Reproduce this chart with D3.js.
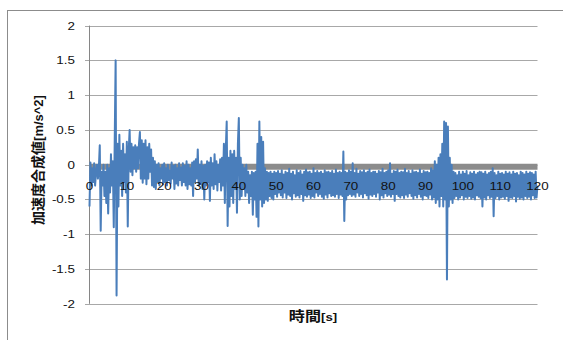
<!DOCTYPE html>
<html><head><meta charset="utf-8">
<script src="https://cdn.jsdelivr.net/npm/d3@7/dist/d3.min.js"></script>
<style>body{margin:0;background:#fff;overflow:hidden}</style>
</head><body>
<svg id="c" width="563" height="340"></svg>
<script>
const sampleStep = 0.25; // seconds between samples
const accel = [
 -0.6, 0.03, -0.3, -0.05, -0.25, 0.02, -0.3, -0.1, 0.0, -0.2,
 -0.05, 0.28, -0.95, -0.1, -0.3, 0.0, -0.45, -0.1, -0.55, 0.0,
 -0.7, -0.05, -0.4, 0.15, -0.3, 0.05, -0.9, 0.33, 1.5, -1.88,
 0.3, -0.6, 0.43, -0.3, 0.2, -0.45, 0.3, -0.25, 0.15, -0.4,
 0.33, -0.89, 0.2, 0.5, -0.1, 0.3, -0.15, 0.25, -0.05, 0.28,
 -0.1, 0.25, -0.05, 0.3, 0.47, -0.2, 0.35, -0.26, 0.3, -0.2,
 0.35, -0.28, 0.25, -0.2, 0.3, -0.1, 0.22, -0.3, 0.1, -0.32,
 0.05, -0.35, 0.0, -0.25, 0.02, -0.3, -0.05, -0.2, 0.0, -0.28,
 0.02, -0.25, -0.05, -0.3, 0.0, -0.22, -0.08, -0.27, 0.03, -0.2,
 -0.02, -0.35, 0.0, -0.27, -0.05, -0.3, 0.02, -0.22, -0.04, -0.3,
 0.02, -0.25, -0.02, -0.3, 0.05, -0.35, 0.0, -0.28, -0.05, -0.3,
 0.03, -0.45, 0.05, -0.25, 0.08, -0.2, 0.22, -0.3, 0.0, -0.28,
 0.05, -0.35, -0.02, -0.5, 0.0, -0.3, 0.05, -0.25, 0.03, -0.52,
 0.1, -0.3, 0.02, -0.35, 0.15, -0.28, 0.05, -0.37, 0.0, -0.25,
 0.08, -0.37, 0.1, -0.3, 0.3, -0.55, 0.2, 0.62, -0.88, 0.1,
 -0.6, 0.2, -0.45, 0.15, -0.55, 0.2, -0.35, 0.1, -0.69, 0.3,
 0.67, -0.5, 0.1, -0.45, 0.0, -0.35, -0.05, -0.45, 0.0, -0.4,
 -0.1, -0.55, -0.15, -0.45, -0.1, -0.72, -0.12, -0.5, -0.1, -0.75,
 0.3, -0.89, 0.62, -0.5, 0.4, -0.6, 0.33, -0.55, -0.05, -0.5,
 -0.1, -0.52, -0.12, -0.45, -0.1, -0.48, -0.13, -0.5, -0.1, -0.42,
 -0.12, -0.46, -0.09, -0.4, -0.13, -0.44, -0.08, -0.47, -0.14, -0.4,
 -0.1, -0.48, -0.12, -0.43, -0.06, -0.45, -0.13, -0.5, -0.1, -0.41,
 -0.15, -0.46, -0.08, -0.44, -0.12, -0.47, -0.09, -0.42, -0.14, -0.52,
 -0.1, -0.44, -0.07, -0.46, -0.11, -0.43, -0.1, -0.48, -0.13, -0.45,
 -0.05, -0.47, -0.12, -0.4, -0.09, -0.45, -0.12, -0.42, -0.1, -0.46,
 -0.13, -0.49, -0.08, -0.43, -0.11, -0.47, -0.1, -0.41, -0.12, -0.45,
 -0.09, -0.44, -0.13, -0.46, -0.07, -0.42, -0.12, -0.48, -0.1, -0.43,
 -0.12, -0.45, 0.19, -0.81, -0.1, -0.5, -0.12, -0.44, -0.08, -0.42,
 -0.1, -0.45, 0.02, -0.43, -0.12, -0.46, -0.06, -0.4, -0.13, -0.45,
 -0.09, -0.42, -0.11, -0.47, -0.08, -0.41, -0.12, -0.44, -0.1, -0.49,
 -0.07, -0.43, -0.12, -0.45, -0.1, -0.42, -0.1, -0.46, -0.13, -0.4,
 -0.09, -0.5, -0.11, -0.44, -0.06, -0.47, -0.12, -0.41, -0.1, -0.45,
 -0.08, -0.43, 0.02, -0.46, -0.13, -0.42, -0.09, -0.52, -0.1, -0.42,
 -0.07, -0.45, -0.12, -0.47, -0.1, -0.44, -0.11, -0.48, -0.06, -0.43,
 -0.12, -0.46, -0.09, -0.41, -0.13, -0.45, -0.08, -0.49, -0.11, -0.44,
 -0.1, -0.47, -0.12, -0.42, -0.07, -0.46, -0.13, -0.5, -0.09, -0.44,
 -0.11, -0.45, -0.1, -0.48, -0.12, -0.43, -0.05, -0.5, -0.08, -0.47,
 0.05, -0.55, 0.0, -0.5, 0.1, -0.6, 0.15, -0.45, 0.3, -0.6,
 0.62, -0.5, 0.6, -1.65, 0.55, -0.6, 0.1, -0.5, 0.0, -0.55,
 -0.1, -0.48, -0.12, -0.45, -0.15, -0.5, -0.1, -0.47, -0.14, -0.44,
 -0.1, -0.5, -0.13, -0.46, -0.09, -0.48, -0.15, -0.45, -0.11, -0.49,
 -0.13, -0.47, -0.1, -0.5, -0.14, -0.44, -0.12, -0.46, -0.1, -0.48,
 -0.11, -0.6, -0.13, -0.47, -0.1, -0.5, -0.14, -0.44, -0.12, -0.48,
 -0.1, -0.46, -0.05, -0.74, -0.12, -0.48, -0.15, -0.45, -0.1, -0.5,
 -0.13, -0.47, -0.12, -0.46, -0.14, -0.49, -0.1, -0.45, -0.13, -0.52,
 -0.11, -0.47, -0.14, -0.48, -0.1, -0.45, -0.13, -0.53, -0.12, -0.46,
 -0.15, -0.49, -0.1, -0.47, -0.12, -0.5, -0.14, -0.45, -0.1, -0.48,
 -0.13, -0.46, -0.11, -0.5, -0.12, -0.44, -0.14, -0.48, -0.1, -0.47,
 -0.3
];
const yTicks = [2, 1.5, 1, 0.5, 0, -0.5, -1, -1.5, -2];
const xTicks = [0, 10, 20, 30, 40, 50, 60, 70, 80, 90, 100, 110, 120];
const yTitle = "加速度合成値", yUnit = "[m/s^2]";
const xTitle = "時間", xUnit = "[s]";

const svg = d3.select("#c");
const x = d3.scaleLinear().domain([0, 120]).range([89.5, 537.5]);
const y = d3.scaleLinear().domain([-2, 2]).range([303.8, 25.6]);
const labelFont = "'Liberation Sans', Arial, sans-serif";
const cjkFont = "'Noto Sans CJK JP', sans-serif";

// outer chart frame
svg.append("rect").attr("x", 7.5).attr("y", 10.5).attr("width", 700).attr("height", 500)
  .attr("fill", "none").attr("stroke", "#8c8c8c");

// gridlines + ticks
svg.append("g").selectAll("line").data(yTicks).join("line")
  .attr("x1", 85).attr("x2", x(120))
  .attr("y1", d => Math.round(y(d)) + 0.5).attr("y2", d => Math.round(y(d)) + 0.5)
  .attr("stroke", "#a8a8a8").attr("stroke-width", 1);

// y axis line
svg.append("line").attr("x1", 89.5).attr("x2", 89.5).attr("y1", y(2)).attr("y2", y(-2))
  .attr("stroke", "#868686");

// x axis bar (thick)
svg.append("line").attr("x1", x(0)).attr("x2", x(120))
  .attr("y1", y(0) + 2).attr("y2", y(0) + 2)
  .attr("stroke", "#8c8c8c").attr("stroke-width", 6);

// data line
const line = d3.line().x((d, i) => x(i * sampleStep)).y(d => y(d));
svg.append("path").datum(accel).attr("d", line)
  .attr("fill", "none").attr("stroke", "#4a7ebb").attr("stroke-width", 2)
  .attr("stroke-linejoin", "round");

// y tick labels
svg.append("g").selectAll("g").data(yTicks).join("g")
  .attr("transform", d => `translate(75,${y(d) + 4}) scale(1.22,1)`)
  .append("text").attr("text-anchor", "end")
  .attr("font-family", labelFont).attr("font-size", 11).attr("fill", "#111")
  .text(d => d);

// x tick labels
svg.append("g").selectAll("g").data(xTicks).join("g")
  .attr("transform", d => `translate(${x(d)},189.5) scale(1.22,1)`)
  .append("text").attr("text-anchor", "middle")
  .attr("font-family", labelFont).attr("font-size", 11).attr("fill", "#111")
  .text(d => d);

// y title
const yt = svg.append("text")
  .attr("transform", "translate(42.5,160) rotate(-90)")
  .attr("text-anchor", "middle").attr("font-weight", "bold").attr("fill", "#111");
yt.append("tspan").attr("font-family", cjkFont).attr("font-size", 14).text(yTitle);
yt.append("tspan").attr("font-family", labelFont).attr("font-size", 13).text(yUnit);

// x title
const xt = svg.append("g").attr("transform", "translate(313,321) scale(1.15,1)")
  .append("text").attr("text-anchor", "middle").attr("font-weight", "bold").attr("fill", "#111");
xt.append("tspan").attr("font-family", cjkFont).attr("font-size", 14).text(xTitle);
xt.append("tspan").attr("font-family", labelFont).attr("font-size", 11.5).text(xUnit);
</script>
</body></html>
